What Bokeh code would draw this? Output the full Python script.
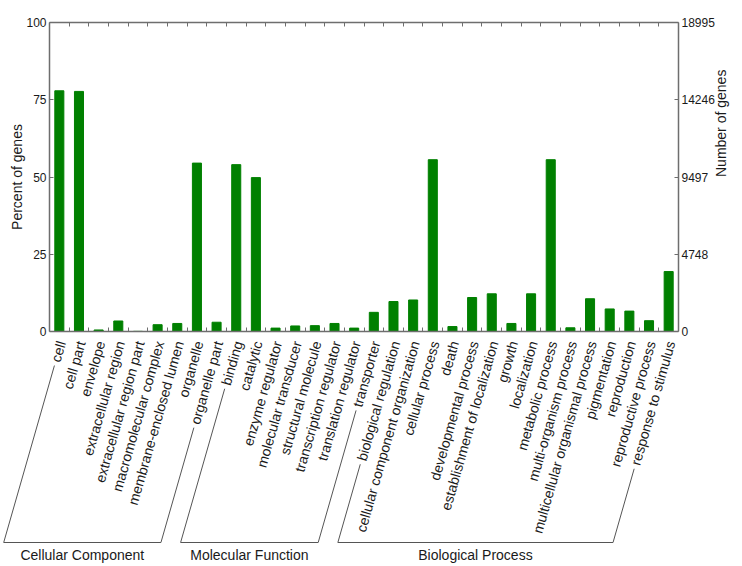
import math
from bokeh.plotting import figure
from bokeh.models import Range1d, LinearAxis, FixedTicker, ColumnDataSource
from bokeh.layouts import column
from bokeh.embed import file_html
from bokeh.resources import INLINE
from bokeh.core.properties import value

# ---------------- data ----------------
categories = [
    "cell", "cell part", "envelope", "extracellular region",
    "extracellular region part", "macromolecular complex",
    "membrane-enclosed lumen", "organelle", "organelle part",
    "binding", "catalytic", "enzyme regulator", "molecular transducer",
    "structural molecule", "transcription regulator",
    "translation regulator", "transporter",
    "biological regulation", "cellular component organization",
    "cellular process", "death", "developmental process",
    "establishment of localization", "growth", "localization",
    "metabolic process", "multi-organism process",
    "multicellular organismal process", "pigmentation", "reproduction",
    "reproductive process", "response to stimulus",
]
percent = [
    77.9, 77.7, 0.5, 3.4, 0.05, 2.2, 2.6, 54.5, 3.0,
    54.0, 49.8, 1.1, 1.8, 1.9, 2.6, 1.1, 6.2,
    9.7, 10.2, 55.6, 1.6, 11.0, 12.2, 2.6, 12.2, 55.6, 1.2, 10.6,
    7.3, 6.6, 3.5, 19.4,
]
groups = ["Cellular Component", "Molecular Function", "Biological Process"]
group_sizes = [9, 8, 15]
pct_ticks = [0, 25, 50, 75, 100]
total_genes = 18995
gene_ticks = [0, 4748, 9497, 14246, 18995]

# ---------------- layout constants ----------------
FONT = "Liberation Sans"
GREEN = "#008000"
AX = "#6e6e6e"
TXT = "#1a1a1a"
W = 740
TOTAL_H = 564
LEFT = 49
RIGHT = 62
TOP = 22
FRAME_H = 309
A_BOT = 8
A_H = TOP + FRAME_H + A_BOT
B_H = TOTAL_H - A_H
N = len(categories)
FRAME_W = W - LEFT - RIGHT
SX = FRAME_W / N               # px per category
ANG = math.radians(74)
LABEL_PX = 14
LABEL_DY = 10                  # px below x axis: end of each label
GAP = 4
BASE_DY = 211                  # px below x axis: bracket baseline

xs = [i + 0.5 for i in range(N)]
src = ColumnDataSource(dict(x=xs, top=percent, cat=categories))

# ---------------- top figure: bars and axes ----------------
pA = figure(width=W, height=A_H, x_range=Range1d(0, N), y_range=Range1d(0, 100),
            output_backend="svg", toolbar_location=None,
            x_axis_location=None, y_axis_location=None,
            min_border_left=LEFT, min_border_right=RIGHT,
            min_border_top=TOP, min_border_bottom=A_BOT)
pA.frame_align = False
pA.extra_y_ranges = {"genes": Range1d(0, total_genes)}
pA.grid.visible = False
pA.outline_line_color = None
pA.background_fill_color = "white"
pA.border_fill_color = "white"

pA.vbar(x="x", top="top", width=0.46, bottom=0, source=src,
        fill_color=GREEN, line_color=GREEN, line_width=1)


def edge_axis():
    ax = LinearAxis(ticker=FixedTicker(ticks=[], minor_ticks=list(range(1, N))))
    ax.minor_tick_in = 4
    ax.minor_tick_out = 0
    ax.major_tick_line_color = None
    ax.minor_tick_line_color = AX
    ax.axis_line_color = AX
    ax.axis_line_width = 1.5
    return ax


pA.add_layout(edge_axis(), "below")
pA.add_layout(edge_axis(), "above")


def style_y(ax):
    ax.major_tick_in = 4
    ax.major_tick_out = 0
    ax.minor_tick_line_color = None
    ax.axis_line_color = AX
    ax.axis_line_width = 1.5
    ax.major_tick_line_color = AX
    ax.major_label_text_font = FONT
    ax.major_label_text_font_size = "12px"
    ax.major_label_text_color = TXT
    ax.major_label_standoff = 3
    ax.axis_label_text_font = FONT
    ax.axis_label_text_font_size = "14px"
    ax.axis_label_text_font_style = "normal"
    ax.axis_label_text_color = TXT


left_ax = LinearAxis(ticker=FixedTicker(ticks=pct_ticks), axis_label="Percent of genes")
style_y(left_ax)
left_ax.axis_label_standoff = -2
pA.add_layout(left_ax, "left")

right_ax = LinearAxis(y_range_name="genes", ticker=FixedTicker(ticks=gene_ticks),
                      axis_label="Number of genes")
style_y(right_ax)
right_ax.axis_label_standoff = 3
right_ax.axis_label_orientation = math.pi / 2
pA.add_layout(right_ax, "right")

# ---------------- bottom figure: labels and group brackets ----------------
pB = figure(width=W, height=B_H,
            x_range=Range1d(-LEFT / SX, (W - LEFT) / SX),
            y_range=Range1d(-B_H, 0),
            output_backend="svg", toolbar_location=None,
            x_axis_location=None, y_axis_location=None, min_border=0)
pB.frame_align = False
pB.grid.visible = False
pB.outline_line_color = None
pB.background_fill_color = "white"
pB.border_fill_color = "white"

CW = dict(a=556, b=556, c=500, d=556, e=556, f=278, g=556, h=556, i=222, j=222,
          k=500, l=222, m=833, n=556, o=556, p=556, q=556, r=333, s=500, t=278,
          u=556, v=500, w=722, x=500, y=500, z=500)
CW[" "] = 278
CW["-"] = 333


def text_w(t):
    return sum(CW.get(ch, 556) for ch in t) / 1000 * LABEL_PX


def below(dy_px):
    """px distance below the x axis -> y coordinate of the lower figure"""
    return -(dy_px - A_BOT)


lab_x = [x + 2 / SX for x in xs]
lab_y = [below(LABEL_DY)] * N
pB.text(x=lab_x, y=lab_y, text=categories, angle=ANG,
        text_align="right", text_baseline="middle",
        text_font=value(FONT), text_font_size=f"{LABEL_PX}px", text_color=TXT)


def leg(i):
    L = text_w(categories[i]) + GAP
    xt = lab_x[i] - math.cos(ANG) * L / SX
    yt_px = LABEL_DY + math.sin(ANG) * L
    xb = xt - (BASE_DY - yt_px) / math.tan(ANG) / SX
    return xt, below(yt_px), xb


bx, by, gx = [], [], []
start = 0
for n in group_sizes:
    i0, i1 = start, start + n - 1
    xt0, yt0, xb0 = leg(i0)
    xt1, yt1, xb1 = leg(i1)
    bx.append([xt0, xb0, xb1, xt1])
    by.append([yt0, below(BASE_DY), below(BASE_DY), yt1])
    gx.append((xb0 + xb1) / 2)
    start += n

pB.multi_line(xs=bx, ys=by, line_color="#555555", line_width=1)
pB.text(x=gx, y=[below(BASE_DY + 4)] * len(groups), text=groups,
        text_align="center", text_baseline="top",
        text_font=value(FONT), text_font_size="14px", text_color=TXT)

layout = column(pA, pB, spacing=0)
open("out.html", "w").write(file_html(layout, INLINE))
